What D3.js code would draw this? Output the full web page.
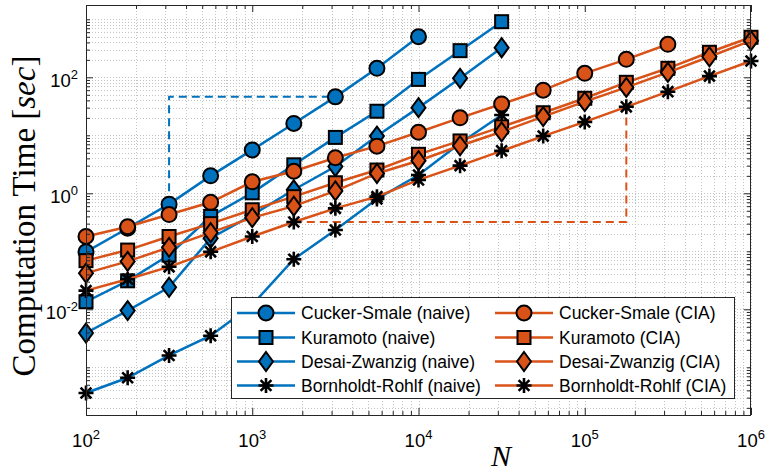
<!DOCTYPE html>
<html>
<head>
<meta charset="utf-8">
<script src="https://cdn.jsdelivr.net/npm/d3@7"></script>
<style>
  body { margin: 0; background: #fff; }
  svg { display: block; }
  text { font-family: "Liberation Sans", Arial, Helvetica, sans-serif; fill: #000; }
</style>
</head>
<body>
<svg width="765" height="474"></svg>
<script>
// problem sizes N (x categories)
var N = [100, 178, 316, 562, 1000, 1778, 3162, 5623, 10000, 17783, 31623, 56234, 100000, 177828, 316228, 562341, 1000000];

// computation time [sec], naive implementation
var csNaive = [0.098, 0.25, 0.65, 2.0, 5.6, 16, 46, 143, 500];
var kuNaive = [0.0135, 0.031, 0.086, 0.40, 1.02, 3.1, 9.2, 26, 92, 288, 910];
var dzNaive = [0.0039, 0.0095, 0.024, 0.168, 0.42, 1.15, 2.9, 9.7, 30, 96, 324];
var brNaive = [0.00036, 0.00066, 0.0016, 0.0035, 0.012, 0.073, 0.233, 0.8, 2.07, 7.3, 22.4];

// computation time [sec], CIA
var csCIA = [0.18, 0.265, 0.43, 0.70, 1.58, 2.4, 4.1, 6.5, 11.3, 20, 34.7, 60, 117, 204, 371];
var kuCIA = [0.069, 0.105, 0.18, 0.30, 0.52, 0.875, 1.52, 2.52, 4.7, 8.0, 14, 24.5, 43.5, 82, 143, 270, 490];
var dzCIA = [0.042, 0.067, 0.117, 0.21, 0.38, 0.60, 1.1, 2.2, 3.65, 6.6, 11.5, 21, 38, 67, 122, 226, 428];
var brCIA = [0.021, 0.033, 0.054, 0.098, 0.18, 0.32, 0.55, 0.875, 1.7, 3.0, 5.4, 9.7, 17, 31, 56.5, 105, 191];

var labels = ["Cucker-Smale (naive)", "Kuramoto (naive)", "Desai-Zwanzig (naive)", "Bornholdt-Rohlf (naive)",
              "Cucker-Smale (CIA)", "Kuramoto (CIA)", "Desai-Zwanzig (CIA)", "Bornholdt-Rohlf (CIA)"];
var xTickExp = [2, 3, 4, 5, 6];
var yTickExp = [-2, 0, 2];

var blue = "#0072BD", orange = "#D95319";
var markers = ["circle", "square", "diamond", "star"];

var series = [csNaive, kuNaive, dzNaive, brNaive, csCIA, kuCIA, dzCIA, brCIA].map(function(v, i) {
    return {
        name: labels[i],
        color: i < 4 ? blue : orange,
        marker: markers[i % 4],
        points: v.map(function(t, j) { return [N[j], t]; })
    };
});

var svg = d3.select("svg");
var plotL = 86, plotR = 751, plotT = 5, plotB = 415;

var x = d3.scaleLog().domain([100, 1e6]).range([plotL, plotR]);
var y = d3.scaleLog().domain([1.505e-4, 1765]).range([plotB, plotT]);

// grid
var grid = svg.append("g").attr("class", "grid");
var xg = x.ticks(), yg = y.ticks();
grid.selectAll(".gx").data(xg).enter().append("line")
    .attr("x1", function(d) { return Math.round(x(d)) + 0.5; })
    .attr("x2", function(d) { return Math.round(x(d)) + 0.5; })
    .attr("y1", plotT).attr("y2", plotB)
    .attr("stroke", "#c4c4c4").attr("stroke-dasharray", "1,2");
grid.selectAll(".gy").data(yg).enter().append("line")
    .attr("y1", function(d) { return Math.round(y(d)) + 0.5; })
    .attr("y2", function(d) { return Math.round(y(d)) + 0.5; })
    .attr("x1", plotL).attr("x2", plotR)
    .attr("stroke", "#c4c4c4").attr("stroke-dasharray", "1,2");

// dashed guide lines (slope comparison)
var line = d3.line().x(function(d) { return x(d[0]); }).y(function(d) { return y(d[1]); });
var blueGuide = [[N[2], csNaive[2]], [N[2], csNaive[6]], [N[6], csNaive[6]]];
var orangeGuide = [[N[5], brCIA[5]], [N[13], brCIA[5]], [N[13], brCIA[13]]];
svg.append("path").attr("d", line(blueGuide)).attr("fill", "none")
    .attr("stroke", blue).attr("stroke-width", 2).attr("stroke-dasharray", "8,5");
svg.append("path").attr("d", line(orangeGuide)).attr("fill", "none")
    .attr("stroke", orange).attr("stroke-width", 2).attr("stroke-dasharray", "8,5");

function drawMarker(g, type, color) {
    if (type === "circle") {
        g.append("circle").attr("r", 7.5).attr("fill", color)
            .attr("stroke", "#000").attr("stroke-width", 2);
    } else if (type === "square") {
        g.append("rect").attr("x", -6.5).attr("y", -6.5).attr("width", 13).attr("height", 13)
            .attr("fill", color).attr("stroke", "#000").attr("stroke-width", 2);
    } else if (type === "diamond") {
        g.append("path").attr("d", "M0,-9.5L7,0L0,9.5L-7,0Z").attr("fill", color)
            .attr("stroke", "#000").attr("stroke-width", 2);
    } else {
        var r = 7.5, d = r * 0.72;
        g.append("path")
            .attr("d", "M" + (-r) + ",0L" + r + ",0M0," + (-r) + "L0," + r +
                       "M" + (-d) + "," + (-d) + "L" + d + "," + d + "M" + (-d) + "," + d + "L" + d + "," + (-d))
            .attr("stroke", "#000").attr("stroke-width", 2.6).attr("fill", "none");
    }
}

// series: line then markers, in plot order
series.forEach(function(s) {
    var g = svg.append("g");
    g.append("path").attr("d", line(s.points)).attr("fill", "none")
        .attr("stroke", s.color).attr("stroke-width", 2.5);
    g.selectAll(".m").data(s.points).enter().append("g")
        .attr("transform", function(d) { return "translate(" + x(d[0]) + "," + y(d[1]) + ")"; })
        .each(function() { drawMarker(d3.select(this), s.marker, s.color); });
});

// axes box with inward ticks
var axisCol = "#262626";
var majX = xTickExp.map(function(e) { return Math.pow(10, e); });
var majY = yTickExp.map(function(e) { return Math.pow(10, e); });
var minX = xg.filter(function(d) { return majX.indexOf(d) < 0; });
var minY = yg.filter(function(d) { return majY.indexOf(d) < 0; });

function ticks(axisFn, scale, vals, size, pos) {
    var a = svg.append("g").attr("transform", pos)
        .call(axisFn(scale).tickValues(vals).tickSize(size).tickFormat(""));
    a.select(".domain").remove();
    a.selectAll("line").attr("stroke", axisCol);
}
ticks(d3.axisBottom, x, majX, -7, "translate(0," + plotB + ")");
ticks(d3.axisBottom, x, minX, -4, "translate(0," + plotB + ")");
ticks(d3.axisTop, x, majX, -7, "translate(0," + plotT + ")");
ticks(d3.axisTop, x, minX, -4, "translate(0," + plotT + ")");
ticks(d3.axisLeft, y, majY, -7, "translate(" + plotL + ",0)");
ticks(d3.axisLeft, y, minY, -4, "translate(" + plotL + ",0)");
ticks(d3.axisRight, y, majY, -7, "translate(" + plotR + ",0)");
ticks(d3.axisRight, y, minY, -4, "translate(" + plotR + ",0)");

svg.append("rect").attr("x", plotL + 0.5).attr("y", plotT + 0.5)
    .attr("width", plotR - plotL - 1).attr("height", plotB - plotT)
    .attr("fill", "none").attr("stroke", axisCol).attr("stroke-width", 1);

// tick labels
var xl = svg.selectAll(".xl").data(xTickExp).enter().append("text")
    .attr("x", function(d) { return x(Math.pow(10, d)); })
    .attr("y", 447).attr("text-anchor", "middle").style("font-size", "18.5px");
xl.append("tspan").text("10");
xl.append("tspan").attr("dy", -8).style("font-size", "13px").text(function(d) { return d; });

var yl = svg.selectAll(".yl").data(yTickExp).enter().append("text")
    .attr("x", 78)
    .attr("y", function(d) { return y(Math.pow(10, d)) + 10; })
    .attr("text-anchor", "end").style("font-size", "18.5px");
yl.append("tspan").text("10");
yl.append("tspan").attr("dy", -8).style("font-size", "13px").text(function(d) { return d; });

// axis titles
var yt = svg.append("text")
    .attr("transform", "translate(35,216) rotate(-90)")
    .attr("text-anchor", "middle")
    .style("font-family", "'Liberation Serif', 'Times New Roman', serif")
    .style("font-size", "33px");
yt.append("tspan").text("Computation Time [");
yt.append("tspan").style("font-style", "italic").text("sec");
yt.append("tspan").text("]");

svg.append("text").attr("x", 501).attr("y", 466).attr("text-anchor", "middle")
    .style("font-family", "'Liberation Serif', 'Times New Roman', serif")
    .style("font-style", "italic").style("font-size", "30px").text("N");

// legend
var legend = svg.append("g");
legend.append("rect").attr("x", 231.5).attr("y", 297.5).attr("width", 503).attr("height", 101)
    .attr("fill", "#fff").attr("stroke", axisCol).attr("stroke-width", 1);
var rowY = [313, 337.5, 361.5, 385.5];
var colX = [237, 495];
series.forEach(function(s, i) {
    var cx = colX[Math.floor(i / 4)], cy = rowY[i % 4];
    var g = legend.append("g");
    g.append("line").attr("x1", cx).attr("x2", cx + 58).attr("y1", cy).attr("y2", cy)
        .attr("stroke", s.color).attr("stroke-width", 2.5);
    drawMarker(g.append("g").attr("transform", "translate(" + (cx + 29) + "," + cy + ")"), s.marker, s.color);
    g.append("text").attr("x", cx + 64).attr("y", cy).attr("dy", "0.36em")
        .style("font-size", "17.5px").text(s.name);
});
</script>
</body>
</html>
